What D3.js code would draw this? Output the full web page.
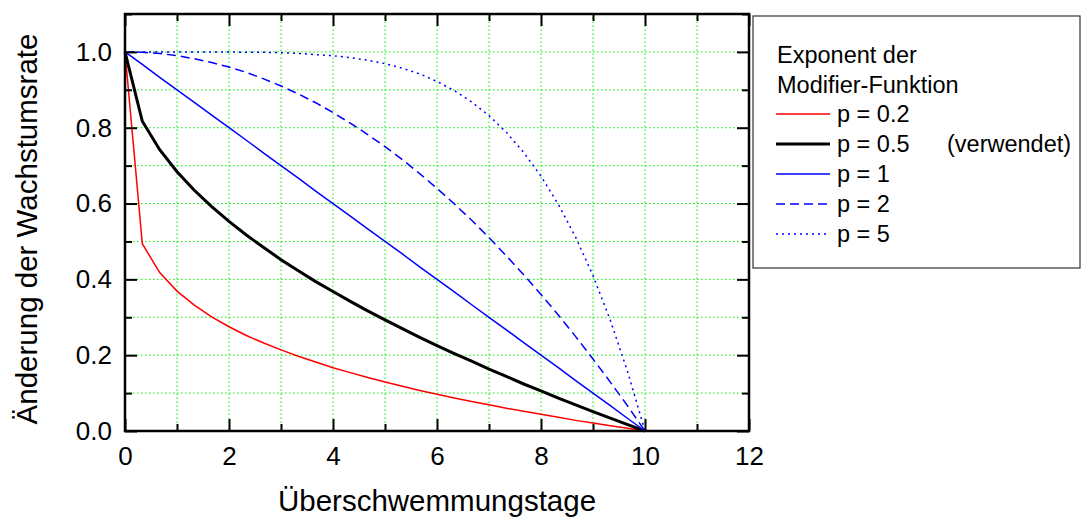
<!DOCTYPE html>
<html>
<head>
<meta charset="utf-8">
<script src="https://cdn.jsdelivr.net/npm/d3@7"></script>
<style>
  body { margin: 0; background: #fff; }
  svg { display: block; font-family: "Liberation Sans", Arial, sans-serif; }
  .grid line { stroke: #00ee00; stroke-width: 1; stroke-dasharray: 1.5, 2.5; }
</style>
</head>
<body>
<svg id="chart" width="1082" height="518"></svg>
<script>
// Überschwemmungstage (sampled every 1/3 day)
var days = [0, 0.333, 0.667, 1, 1.333, 1.667, 2, 2.333, 2.667, 3, 3.333, 3.667, 4, 4.333, 4.667, 5,
    5.333, 5.667, 6, 6.333, 6.667, 7, 7.333, 7.667, 8, 8.333, 8.667, 9, 9.333, 9.667, 10];

// Änderung der Wachstumsrate for each exponent
var p02 = [1, 0.494, 0.418, 0.369, 0.332, 0.301, 0.275, 0.252, 0.232, 0.214, 0.197, 0.182, 0.167, 0.154, 0.141, 0.129,
    0.118, 0.107, 0.097, 0.087, 0.078, 0.069, 0.060, 0.052, 0.044, 0.036, 0.028, 0.021, 0.014, 0.007, 0];
var p05 = [1, 0.817, 0.742, 0.684, 0.635, 0.592, 0.553, 0.517, 0.484, 0.452, 0.423, 0.394, 0.368, 0.342, 0.317, 0.293,
    0.270, 0.247, 0.225, 0.204, 0.184, 0.163, 0.144, 0.124, 0.106, 0.087, 0.069, 0.051, 0.034, 0.017, 0];
var p1 = [1, 0.967, 0.933, 0.9, 0.867, 0.833, 0.8, 0.767, 0.733, 0.7, 0.667, 0.633, 0.6, 0.567, 0.533, 0.5,
    0.467, 0.433, 0.4, 0.367, 0.333, 0.3, 0.267, 0.233, 0.2, 0.167, 0.133, 0.1, 0.067, 0.033, 0];
var p2 = [1, 0.999, 0.996, 0.99, 0.982, 0.972, 0.96, 0.946, 0.929, 0.91, 0.889, 0.866, 0.84, 0.812, 0.782, 0.75,
    0.716, 0.679, 0.64, 0.599, 0.556, 0.51, 0.462, 0.412, 0.36, 0.306, 0.249, 0.19, 0.129, 0.066, 0];
var p5 = [1, 1, 1, 1, 1, 1, 1, 0.999, 0.999, 0.998, 0.996, 0.993, 0.99, 0.985, 0.978, 0.969,
    0.957, 0.942, 0.922, 0.898, 0.868, 0.832, 0.788, 0.735, 0.672, 0.598, 0.511, 0.41, 0.292, 0.156, 0];

var seriesNames = ["p = 0.2", "p = 0.5", "p = 1", "p = 2", "p = 5"];
var seriesValues = [p02, p05, p1, p2, p5];

var xTicks = [0, 2, 4, 6, 8, 10, 12];
var xMinorTicks = [1, 3, 5, 7, 9, 11];
var yTicks = [0, 0.2, 0.4, 0.6, 0.8, 1.0];
var yMinorTicks = [0.1, 0.3, 0.5, 0.7, 0.9, 1.1];

// line styles per series
var styles = [
    { color: "#ff0000", width: 1.5, dash: null },
    { color: "#000000", width: 3, dash: null },
    { color: "#0000ff", width: 1.5, dash: null },
    { color: "#0000ff", width: 1.5, dash: "9,5" },
    { color: "#0000ff", width: 1.5, dash: "2,4" }
];

var svg = d3.select("#chart");
var plotLeft = 125, plotRight = 749, plotTop = 14, plotBottom = 431;

var x = d3.scaleLinear().domain([0, 12]).range([plotLeft, plotRight]);
var y = d3.scaleLinear().domain([0, 1.1]).range([plotBottom, plotTop]);

// grid
var grid = svg.append("g").attr("class", "grid");
grid.selectAll(".gx")
    .data(d3.range(1, 12))
    .enter().append("line")
    .attr("x1", function (d) { return x(d); })
    .attr("x2", function (d) { return x(d); })
    .attr("y1", y(0)).attr("y2", y(1.1));
grid.selectAll(".gy")
    .data(d3.range(1, 11).map(function (i) { return i / 10; }))
    .enter().append("line")
    .attr("x1", x(0)).attr("x2", x(12))
    .attr("y1", function (d) { return y(d); })
    .attr("y2", function (d) { return y(d); });

// curves
var line = d3.line()
    .x(function (d, i) { return x(days[i]); })
    .y(function (d) { return y(d); });

svg.selectAll(".curve")
    .data(seriesValues)
    .enter().append("path")
    .attr("class", "curve")
    .attr("d", line)
    .attr("fill", "none")
    .attr("stroke", function (d, i) { return styles[i].color; })
    .attr("stroke-width", function (d, i) { return styles[i].width; })
    .attr("stroke-dasharray", function (d, i) { return styles[i].dash; });

// axes with inward ticks on all four sides
svg.append("g").attr("transform", "translate(0," + plotBottom + ")")
    .call(d3.axisBottom(x).tickValues(xMinorTicks).tickSize(-7).tickFormat(""));
svg.append("g").attr("transform", "translate(0," + plotBottom + ")")
    .call(d3.axisBottom(x).tickValues(xTicks).tickSize(-12).tickPadding(16).tickFormat(d3.format("d")));
svg.append("g").attr("transform", "translate(0," + plotTop + ")")
    .call(d3.axisTop(x).tickValues(xMinorTicks).tickSize(-7).tickFormat(""));
svg.append("g").attr("transform", "translate(0," + plotTop + ")")
    .call(d3.axisTop(x).tickValues(xTicks).tickSize(-12).tickFormat(""));

svg.append("g").attr("transform", "translate(" + plotLeft + ",0)")
    .call(d3.axisLeft(y).tickValues(yMinorTicks).tickSize(-7).tickFormat(""));
svg.append("g").attr("transform", "translate(" + plotLeft + ",0)")
    .call(d3.axisLeft(y).tickValues(yTicks).tickSize(-12).tickPadding(13).tickFormat(d3.format(".1f")));
svg.append("g").attr("transform", "translate(" + plotRight + ",0)")
    .call(d3.axisRight(y).tickValues(yMinorTicks).tickSize(-7).tickFormat(""));
svg.append("g").attr("transform", "translate(" + plotRight + ",0)")
    .call(d3.axisRight(y).tickValues(yTicks).tickSize(-12).tickFormat(""));

svg.selectAll(".domain").remove();
svg.selectAll(".tick line").attr("stroke", "#000").attr("stroke-width", 2);
svg.selectAll(".tick text").attr("font-size", 26).attr("fill", "#000")
    .attr("font-family", "Liberation Sans, Arial, sans-serif");

// frame
svg.append("rect")
    .attr("x", plotLeft).attr("y", plotTop)
    .attr("width", plotRight - plotLeft).attr("height", plotBottom - plotTop)
    .attr("fill", "none").attr("stroke", "#000").attr("stroke-width", 2.5);

// axis titles
svg.append("text")
    .attr("x", (plotLeft + plotRight) / 2).attr("y", 511)
    .attr("text-anchor", "middle").attr("font-size", 29.5)
    .text("Überschwemmungstage");
svg.append("text")
    .attr("transform", "translate(37,229) rotate(-90)")
    .attr("text-anchor", "middle").attr("font-size", 29.5)
    .text("Änderung der Wachstumsrate");

// legend
var legend = svg.append("g");
legend.append("rect")
    .attr("x", 753).attr("y", 16).attr("width", 327).attr("height", 252)
    .attr("fill", "#fff").attr("stroke", "#333").attr("stroke-width", 1.2);
legend.append("text").attr("x", 777).attr("y", 63).attr("font-size", 23.5).text("Exponent der");
legend.append("text").attr("x", 777).attr("y", 93).attr("font-size", 23.5).text("Modifier-Funktion");

var rows = legend.selectAll(".row")
    .data(seriesNames)
    .enter().append("g")
    .attr("transform", function (d, i) { return "translate(0," + (114 + i * 30) + ")"; });
rows.append("line")
    .attr("x1", 776).attr("x2", 830)
    .attr("stroke", function (d, i) { return styles[i].color; })
    .attr("stroke-width", function (d, i) { return styles[i].width; })
    .attr("stroke-dasharray", function (d, i) { return styles[i].dash; });
rows.append("text")
    .attr("x", 837).attr("y", 8).attr("font-size", 23.5)
    .text(function (d) { return d; });
legend.append("text").attr("x", 947).attr("y", 152).attr("font-size", 23.5).text("(verwendet)");
</script>
</body>
</html>
